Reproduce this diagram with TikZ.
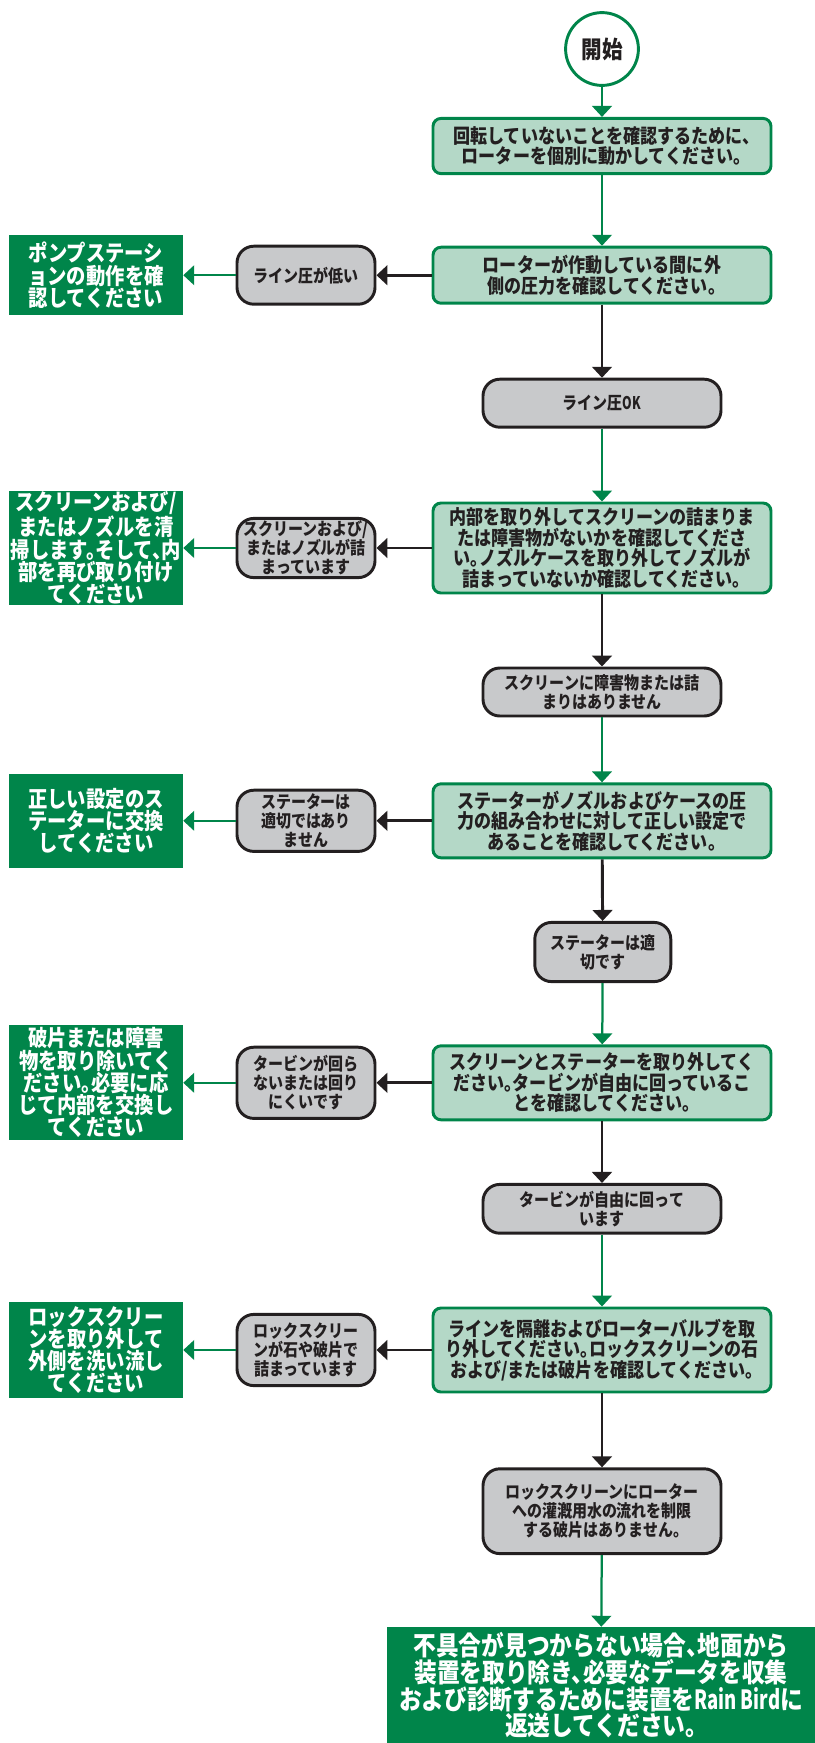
\documentclass[tikz,border=0pt]{standalone}
\usepackage{fontspec}
\setmainfont{Noto Sans CJK JP}[FakeStretch=0.86, RawFeature=+halt]
\usepackage{xcolor}
\usepackage{tikz}
\usetikzlibrary{arrows.meta, positioning}
\definecolor{rbgreen}{RGB}{0,133,74}
\definecolor{mint}{RGB}{180,216,199}
\definecolor{stone}{RGB}{200,201,203}
\definecolor{ink}{RGB}{35,31,32}
\newcommand{\narrow}[1]{{\addfontfeature{FakeStretch=0.7}#1}}
\tikzset{
    startnode/.style={circle, minimum size=1.82cm, draw=rbgreen, line width=2.1pt, fill=white, text=ink, font=\bfseries\fontsize{17}{17}\selectfont},
    check/.style={rectangle, rounded corners=0.2cm, minimum width=8.45cm, text centered, draw=rbgreen, line width=2.1pt, fill=mint, text=ink, align=center, inner sep=0pt, font=\bfseries\fontsize{14.1}{14.6}\selectfont},
    result/.style={rectangle, rounded corners=0.42cm, minimum width=5.95cm, text centered, draw=ink, line width=2.1pt, fill=stone, text=ink, align=center, inner sep=0pt, font=\bfseries\fontsize{12.4}{13.5}\selectfont},
    action/.style={rectangle, minimum width=4.35cm, text centered, fill=rbgreen, text=white, align=center, inner sep=0pt, font=\bfseries\fontsize{16}{15.8}\selectfont},
    finalbox/.style={rectangle, minimum width=10.7cm, minimum height=2.9cm, text centered, fill=rbgreen, text=white, align=center, inner sep=0pt, font=\bfseries\fontsize{18.8}{17.8}\selectfont}
}

\begin{document}
\begin{tikzpicture}[
    okflow/.style={-{Triangle[width=14pt,length=7.8pt]}, rbgreen, line width=1.6pt},
    badflow/.style={-{Triangle[width=14pt,length=7.8pt]}, ink, line width=2.1pt}
]
    \useasboundingbox (0,0) rectangle (20.375,-43.575);

    % Start
    \node[startnode] (start) at (15.05,-1.225) {開始};

    % Checks
    \node[check, minimum height=1.38cm] (chk1) at (15.05,-3.65) {回転していないことを確認するために、\\ローターを個別に動かしてください。};
    \node[check, minimum height=1.4cm] (chk2) at (15.05,-6.88) {ローターが作動している間に外\\側の圧力を確認してください。};
    \node[check, minimum height=2.25cm] (chk3) at (15.05,-13.7) {内部を取り外してスクリーンの詰まりま\\たは障害物がないかを確認してくださ\\い。ノズルケースを取り外してノズルが\\詰まっていないか確認してください。};
    \node[check, minimum height=1.85cm] (chk4) at (15.05,-20.52) {ステーターがノズルおよびケースの圧\\力の組み合わせに対して正しい設定で\\あることを確認してください。};
    \node[check, minimum height=1.85cm] (chk5) at (15.05,-27.07) {スクリーンとステーターを取り外してく\\ださい。タービンが自由に回っているこ\\とを確認してください。};
    \node[check, minimum height=2.1cm] (chk6) at (15.05,-33.75) {ラインを隔離およびローターバルブを取\\り外してください。ロックスクリーンの石\\および/または破片を確認してください。};

    % Results that pass
    \node[result, minimum height=1.2cm] (okline) at (15.05,-10.08) {ライン圧\narrow{OK}};
    \node[result, minimum height=1.2cm] (noblock) at (15.05,-17.3) {スクリーンに障害物または詰\\まりはありません};
    \node[result, minimum width=3.4cm, minimum height=1.48cm] (statorok) at (15.07,-23.8) {ステーターは適\\切です};
    \node[result, minimum height=1.22cm] (turbok) at (15.05,-30.22) {タービンが自由に回って\\います};
    \node[result, minimum height=2.12cm] (rockok) at (15.05,-37.78) {ロックスクリーンにローター\\への灌漑用水の流れを制限\\する破片はありません。};

    % Results that fail
    \node[result, minimum width=3.45cm, minimum height=1.45cm] (lowline) at (7.65,-6.88) {ライン圧が低い};
    \node[result, minimum width=3.45cm, minimum height=1.48cm] (clogged) at (7.65,-13.7) {スクリーンおよび/\\またはノズルが詰\\まっています};
    \node[result, minimum width=3.45cm, minimum height=1.53cm] (statorbad) at (7.65,-20.52) {ステーターは\\適切ではあり\\ません};
    \node[result, minimum width=3.45cm, minimum height=1.78cm] (turbbad) at (7.65,-27.07) {タービンが回ら\\ないまたは回り\\にくいです};
    \node[result, minimum width=3.45cm, minimum height=1.78cm] (rockbad) at (7.65,-33.75) {ロックスクリー\\ンが石や破片で\\詰まっています};

    % Actions
    \node[action, minimum height=2.0cm] (pump) at (2.4,-6.88) {ポンプステーシ\\ョンの動作を確\\認してください};
    \node[action, minimum height=2.83cm] (clean) at (2.4,-13.7) {スクリーンおよび/\\またはノズルを清\\掃します。そして、内\\部を再び取り付け\\てください};
    \node[action, minimum height=2.35cm] (replace) at (2.4,-20.52) {正しい設定のス\\テーターに交換\\してください};
    \node[action, minimum height=2.88cm] (debris) at (2.4,-27.07) {破片または障害\\物を取り除いてく\\ださい。必要に応\\じて内部を交換し\\てください};
    \node[action, minimum height=2.38cm] (flush) at (2.4,-33.75) {ロックスクリー\\ンを取り外して\\外側を洗い流し\\てください};
    \node[finalbox] (final) at (15.025,-42.125) {不具合が見つからない場合、地面から\\装置を取り除き、必要なデータを収集\\および診断するために装置を\narrow{Rain Bird}に\\返送してください。};

    % Main column
    \draw[okflow] (start) -- (chk1);
    \draw[okflow] (chk1) -- (chk2);
    \draw[badflow] (chk2) -- (okline);
    \draw[okflow] (okline) -- (chk3);
    \draw[badflow] (chk3) -- (noblock);
    \draw[okflow] (noblock) -- (chk4);
    \draw[badflow] (chk4) -- (statorok);
    \draw[okflow] (statorok) -- (chk5);
    \draw[badflow] (chk5) -- (turbok);
    \draw[okflow] (turbok) -- (chk6);
    \draw[badflow] (chk6) -- (rockok);
    \draw[okflow] (rockok) -- (final);

    % Side branches
    \draw[badflow] (chk2) -- (lowline);
    \draw[badflow] (chk3) -- (clogged);
    \draw[badflow] (chk4) -- (statorbad);
    \draw[badflow] (chk5) -- (turbbad);
    \draw[badflow] (chk6) -- (rockbad);
    \draw[okflow] (lowline) -- (pump);
    \draw[okflow] (clogged) -- (clean);
    \draw[okflow] (statorbad) -- (replace);
    \draw[okflow] (turbbad) -- (debris);
    \draw[okflow] (rockbad) -- (flush);
\end{tikzpicture}
\end{document}
